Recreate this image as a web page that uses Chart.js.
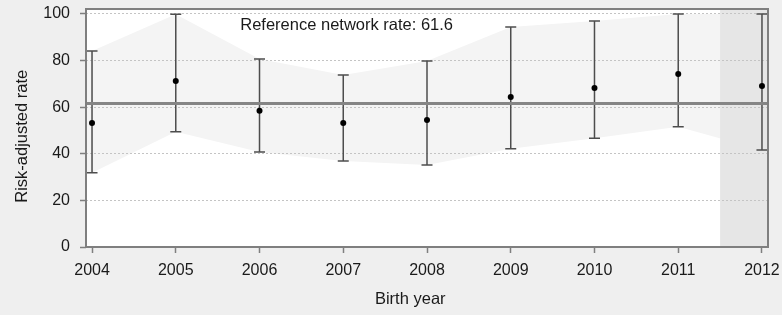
<!DOCTYPE html>
<html><head><meta charset="utf-8">
<script src="https://cdn.jsdelivr.net/npm/chart.js@4/dist/chart.umd.min.js"></script>
<style>html,body{margin:0;padding:0;background:#efefef;}canvas{display:block;}</style>
</head><body>
<canvas id="c" width="782" height="315"></canvas>
<script>
const years = [2004, 2005, 2006, 2007, 2008, 2009, 2010, 2011, 2012];
const rates = [53.2, 71.2, 58.4, 53.2, 54.5, 64.4, 68.2, 74.2, 69.1];
const ciLower = [31.8, 49.4, 40.8, 36.9, 35.2, 42.1, 46.6, 51.6, 41.6];
const ciUpper = [84.1, 99.8, 80.7, 73.8, 79.8, 94.4, 97.0, 100.0, 100.0];
const yTicks = [0, 20, 40, 60, 80, 100];
const referenceRate = 61.6;
const shadedFrom = 2011.5;
const xTitle = 'Birth year';
const yTitle = 'Risk-adjusted rate';
const refLabel = 'Reference network rate: ' + referenceRate;
const refLabelAt = {x: 2005.77, y: 95.2};

const X_MIN = 2003.928, X_MAX = 2012.072, Y_MIN = 0, Y_MAX = 102.1;
const FONT = "'Liberation Sans', Arial, sans-serif";
const TEXT = '#1a1a1a';

const bandUpper = [{x: X_MIN, y: ciUpper[0]}].concat(years.map((yr, i) => ({x: yr, y: ciUpper[i]})), [{x: X_MAX, y: ciUpper[ciUpper.length - 1]}]);
const bandLower = [{x: X_MIN, y: ciLower[0]}].concat(years.map((yr, i) => ({x: yr, y: ciLower[i]})), [{x: X_MAX, y: ciLower[ciLower.length - 1]}]);

function plotBox(chart) {
  const {x, y} = chart.scales;
  return {left: x.left, right: x.right, top: y.top, bottom: y.bottom};
}

const decor = {
  id: 'decor',
  beforeDraw(chart) {
    const {ctx} = chart;
    const a = plotBox(chart);
    ctx.save();
    ctx.globalCompositeOperation = 'destination-over';
    ctx.fillStyle = '#ffffff';
    ctx.fillRect(a.left, a.top, a.right - a.left, a.bottom - a.top);
    ctx.restore();
  },
  beforeDatasetsDraw(chart) {
    const {ctx, scales: {x, y}} = chart;
    ctx.save();
    ctx.strokeStyle = '#4d4d4d';
    ctx.lineWidth = 1.5;
    years.forEach((yr, i) => {
      const px = x.getPixelForValue(yr);
      const top = y.getPixelForValue(ciUpper[i]);
      const bot = y.getPixelForValue(ciLower[i]);
      ctx.beginPath();
      ctx.moveTo(px, top); ctx.lineTo(px, bot);
      ctx.moveTo(px - 5.5, top); ctx.lineTo(px + 5.5, top);
      ctx.moveTo(px - 5.5, bot); ctx.lineTo(px + 5.5, bot);
      ctx.stroke();
    });
    ctx.restore();
  },
  afterDraw(chart) {
    const {ctx, scales: {x, y}} = chart;
    const a = plotBox(chart);
    ctx.save();
    ctx.strokeStyle = '#7f7f7f';
    ctx.lineWidth = 2;
    ctx.strokeRect(a.left, a.top, a.right - a.left, a.bottom - a.top);
    ctx.fillStyle = TEXT;
    ctx.font = '16.5px ' + FONT;
    ctx.textAlign = 'left';
    ctx.textBaseline = 'middle';
    ctx.fillText(refLabel, x.getPixelForValue(refLabelAt.x), y.getPixelForValue(refLabelAt.y));
    // axis titles
    ctx.textAlign = 'center';
    ctx.fillText(xTitle, x.getPixelForValue(2007.8), 299);
    ctx.translate(22.5, y.getPixelForValue(disp_yTitleCenter));
    ctx.rotate(-Math.PI / 2);
    ctx.fillText(yTitle, 0, 0);
    ctx.restore();
  }
};
const disp_yTitleCenter = 47.5;

new Chart(document.getElementById('c'), {
  type: 'scatter',
  data: {
    datasets: [
      {type: 'line', data: [{x: shadedFrom, y: Y_MAX}, {x: X_MAX, y: Y_MAX}], fill: 'start',
       backgroundColor: '#e6e6e6', borderColor: 'transparent', borderWidth: 0, pointRadius: 0, order: 5},
      {type: 'line', data: bandUpper, fill: '+1', backgroundColor: '#f4f4f4',
       borderColor: 'transparent', borderWidth: 0, pointRadius: 0, tension: 0, order: 6},
      {type: 'line', data: bandLower, fill: false,
       borderColor: 'transparent', borderWidth: 0, pointRadius: 0, tension: 0, order: 7},
      {type: 'line', data: [{x: X_MIN, y: referenceRate}, {x: X_MAX, y: referenceRate}], fill: false,
       borderColor: '#858585', borderWidth: 3, pointRadius: 0, order: 2},
      {type: 'scatter', data: years.map((yr, i) => ({x: yr, y: rates[i]})),
       backgroundColor: '#000000', borderColor: '#000000', borderWidth: 0, pointRadius: 3, order: 0}
    ]
  },
  options: {
    responsive: false,
    animation: false,
    devicePixelRatio: 1,
    events: [],
    layout: {padding: 0},
    plugins: {legend: {display: false}, tooltip: {enabled: false}, filler: {drawTime: 'beforeDraw'}},
    scales: {
      x: {
        type: 'linear', min: X_MIN, max: X_MAX,
        afterBuildTicks: s => { s.ticks = years.map(v => ({value: v})); },
        afterFit: s => { s.height = 68; s.paddingLeft = 0; s.paddingRight = 14; },
        ticks: {callback: v => String(v), color: TEXT, font: {family: FONT, size: 16}, padding: 8, maxRotation: 0, autoSkip: false},
        grid: {display: true, drawOnChartArea: false, drawTicks: true, tickLength: 6, tickColor: '#7f7f7f', tickWidth: 1.5},
        border: {display: false},
        title: {display: false}
      },
      y: {
        type: 'linear', min: Y_MIN, max: Y_MAX,
        afterBuildTicks: s => { s.ticks = yTicks.map(v => ({value: v})); },
        afterFit: s => { s.width = 86; s.paddingTop = 9; s.paddingBottom = 0; },
        ticks: {color: TEXT, font: {family: FONT, size: 16}, padding: 10},
        grid: {color: '#c4c4c4', lineWidth: 1, drawTicks: true, tickLength: 6, tickColor: '#7f7f7f', tickWidth: 1.5, tickBorderDash: []},
        border: {display: false, dash: [2, 2]},
        title: {display: false}
      }
    }
  },
  plugins: [decor]
});
</script>
</body></html>
